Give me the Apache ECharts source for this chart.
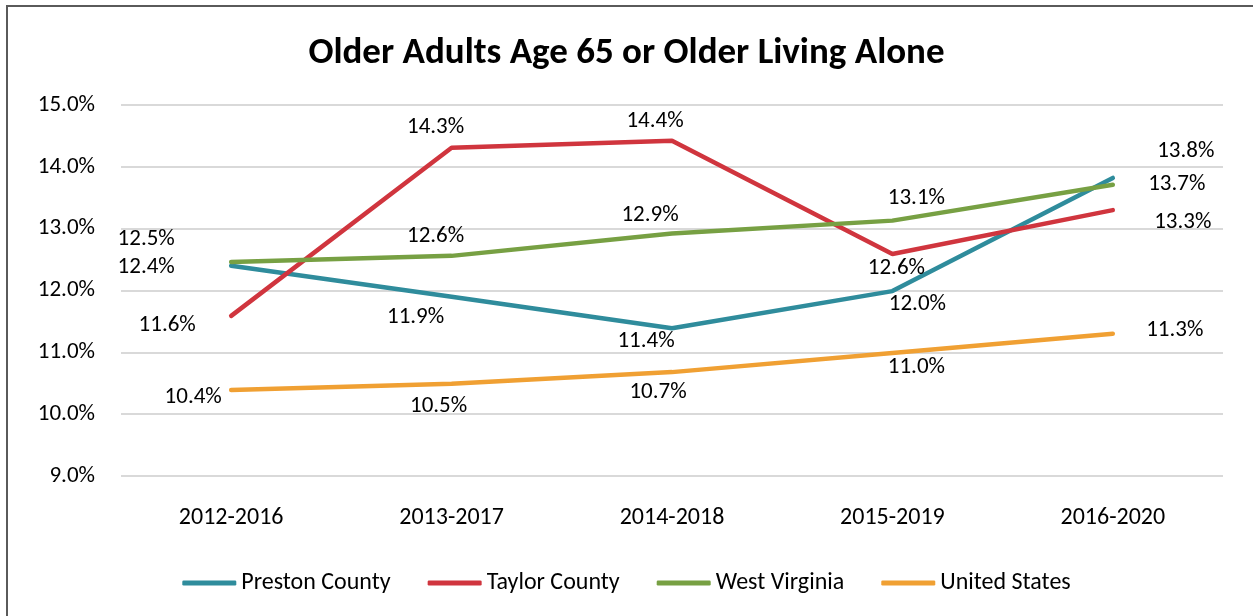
<!DOCTYPE html>
<html>
<head>
<meta charset="utf-8">
<script src="https://cdn.jsdelivr.net/npm/echarts@6/dist/echarts.min.js"></script>
<style>
  html, body { margin: 0; padding: 0; background: #fff; }
  #main { width: 1253px; height: 616px; }
</style>
</head>
<body>
<div id="main"></div>
<script>
const periods = ['2012-2016', '2013-2017', '2014-2018', '2015-2019', '2016-2020'];
const preston = [12.40, 11.90, 11.39, 11.99, 13.82];
const taylor = [11.59, 14.31, 14.42, 12.59, 13.30];
const westVirginia = [12.46, 12.56, 12.92, 13.13, 13.71];
const unitedStates = [10.39, 10.49, 10.68, 10.99, 11.30];

// where each data label sits relative to its point (px)
const labelShift = {
  preston: [[-85, 1], [-36, 21], [-26, 13], [25, 13], [73, -27]],
  taylor: [[-64, 9], [-16, -20], [-17, -20], [4, 14], [70, 12]],
  westVirginia: [[-85, -23], [-16, -20], [-22, -18], [24, -22], [64, -1]],
  unitedStates: [[-38, 7], [-13, 22], [-14, 20], [24, 14], [62, -4]]
};

const font = 'Carlito, Lato, "Open Sans", sans-serif';

function makeSeries(name, values, color, shifts) {
  return {
    name: name,
    type: 'line',
    data: values.map((v, i) => ({
      value: v,
      label: { offset: shifts[i] }
    })),
    symbol: 'circle',
    symbolSize: 1,
    showSymbol: true,
    lineStyle: { color: color, width: 4.5, cap: 'round' },
    itemStyle: { color: color },
    label: {
      show: true,
      position: 'inside',
      color: '#000',
      fontFamily: font,
      fontSize: 23,
      formatter: p => p.value.toFixed(1) + '%'
    },
    emphasis: { disabled: true },
    animation: false
  };
}

const myChart = echarts.init(document.getElementById('main'));
const option = {
  backgroundColor: '#fff',
  title: {
    text: 'Older Adults Age 65 or Older Living Alone',
    left: 'center',
    top: 30,
    textStyle: { fontFamily: font, fontSize: 37, fontWeight: 'bold', color: '#000' }
  },
  grid: { left: 121, right: 30, top: 105, bottom: 140 },
  legend: {
    bottom: 16,
    left: 'center',
    itemGap: 37,
    itemWidth: 54,
    itemHeight: 5,
    icon: 'roundRect',
    textStyle: { fontFamily: font, fontSize: 24, color: '#000' },
    data: ['Preston County', 'Taylor County', 'West Virginia', 'United States']
  },
  xAxis: {
    type: 'category',
    data: periods,
    boundaryGap: true,
    axisLine: { show: false },
    axisTick: { show: false },
    axisLabel: { fontFamily: font, fontSize: 24, color: '#000', margin: 30 }
  },
  yAxis: {
    type: 'value',
    min: 9,
    max: 15,
    interval: 1,
    axisLine: { show: false },
    axisTick: { show: false },
    splitLine: { lineStyle: { color: '#d9d9d9', width: 2 } },
    axisLabel: {
      fontFamily: font, fontSize: 23, color: '#000', margin: 26,
      formatter: v => v.toFixed(1) + '%'
    }
  },
  graphic: [{
    type: 'polyline',
    shape: { points: [[7, 616], [7, 6], [1253, 6]] },
    style: { stroke: '#5a5a5a', lineWidth: 2, fill: null }
  }],
  series: [
    makeSeries('Preston County', preston, '#2f8c9c', labelShift.preston),
    makeSeries('Taylor County', taylor, '#d0353e', labelShift.taylor),
    makeSeries('West Virginia', westVirginia, '#77a043', labelShift.westVirginia),
    makeSeries('United States', unitedStates, '#f0a033', labelShift.unitedStates)
  ]
};
myChart.setOption(option);
</script>
</body>
</html>
